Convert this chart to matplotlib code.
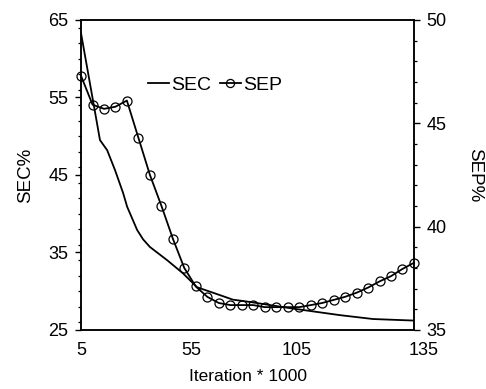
import matplotlib
matplotlib.use('Agg')
import matplotlib.pyplot as plt
import matplotlib.transforms as mtransforms
from matplotlib.ticker import MultipleLocator

plt.rcParams['font.family'] = ['Liberation Sans', 'DejaVu Sans']

# SEC (left axis), plain line
sec_x = [5, 9.3, 12.4, 15.2, 18.3, 21.4, 23.0, 26.9, 29.2, 31.9, 38.6, 44.8,
         50.3, 56.5, 64.3, 71.0, 86.6, 106.1, 119.0, 135]
sec_y = [63.3, 55.3, 49.5, 48.2, 45.6, 42.7, 40.9, 37.9, 36.7, 35.7, 34.0, 32.3,
         30.5, 29.8, 28.9, 28.6, 27.8, 26.9, 26.4, 26.2]

# SEP (right axis), line with open circles
sep_x = [5.0, 9.5, 14.0, 18.4, 22.9, 27.4, 31.9, 36.4, 40.9, 45.3,
         49.8, 54.3, 58.8, 63.3, 67.8, 72.2, 76.7, 81.2, 85.7, 90.2,
         94.7, 99.1, 103.6, 108.1, 112.6, 117.1, 121.6, 126.0, 130.5, 135.0]
sep_y = [47.3, 45.9, 45.7, 45.8, 46.1, 44.3, 42.5, 41.0, 39.4, 38.0,
         37.1, 36.6, 36.3, 36.2, 36.2, 36.2, 36.1, 36.1, 36.1, 36.1,
         36.2, 36.3, 36.45, 36.6, 36.8, 37.05, 37.35, 37.6, 37.95, 38.25]

# tick labels as printed (positions follow the printed labels)
xtick_pos = [5, 47.9, 89.3, 135]
xtick_lab = ['5', '55', '105', '135']

fig = plt.figure(figsize=(4.86, 3.89), dpi=100)
ax = fig.add_axes([0.1667, 0.152, 0.6852, 0.7966])
ax2 = ax.twinx()

l1, = ax.plot(sec_x, sec_y, color='black', lw=1.3)
l2, = ax2.plot(sep_x, sep_y, color='black', lw=1.3, marker='o', ms=6.5,
               mfc='none', mec='black', mew=0.9, clip_on=False)

ax.set_xlim(5, 135)
ax.set_ylim(25, 65)
ax2.set_ylim(35, 50)

ax.set_yticks([25, 35, 45, 55, 65])
ax.yaxis.set_minor_locator(MultipleLocator(2))
ax2.set_yticks([35, 40, 45, 50])
ax2.yaxis.set_minor_locator(MultipleLocator(1))

ax.set_xticks(xtick_pos)
ax.set_xticklabels(xtick_lab)
ax.tick_params(axis='x', length=0, pad=9, labelsize=13)
ax.tick_params(axis='y', which='major', length=4, width=1, pad=5, labelsize=13)
ax.tick_params(axis='y', which='minor', length=2.5, width=0.9)
ax2.tick_params(axis='y', which='major', length=4, width=1, pad=5, labelsize=13)
ax2.tick_params(axis='y', which='minor', length=2.5, width=0.9)

# last label printed a bit to the right of the spine
off = mtransforms.ScaledTranslation(10 / 100, 0, fig.dpi_scale_trans)
lab = ax.get_xticklabels()[-1]
lab.set_transform(lab.get_transform() + off)

for a in (ax, ax2):
    for s in a.spines.values():
        s.set_linewidth(1.1)

ax.set_xlabel('Iteration * 1000', fontsize=12.5, labelpad=7)
ax.set_ylabel('SEC%', fontsize=13.5, labelpad=10)
ax2.set_ylabel('SEP%', fontsize=13.5, rotation=270, labelpad=26)

ax.legend([l1, l2], ['SEC', 'SEP'], loc='center left',
          bbox_to_anchor=(0.2, 0.79), ncol=2, frameon=False, fontsize=14,
          handlelength=1.1, handletextpad=0.1, columnspacing=0.45,
          borderpad=0, borderaxespad=0, markerscale=0.9)

fig.savefig('out.png', dpi=100)
